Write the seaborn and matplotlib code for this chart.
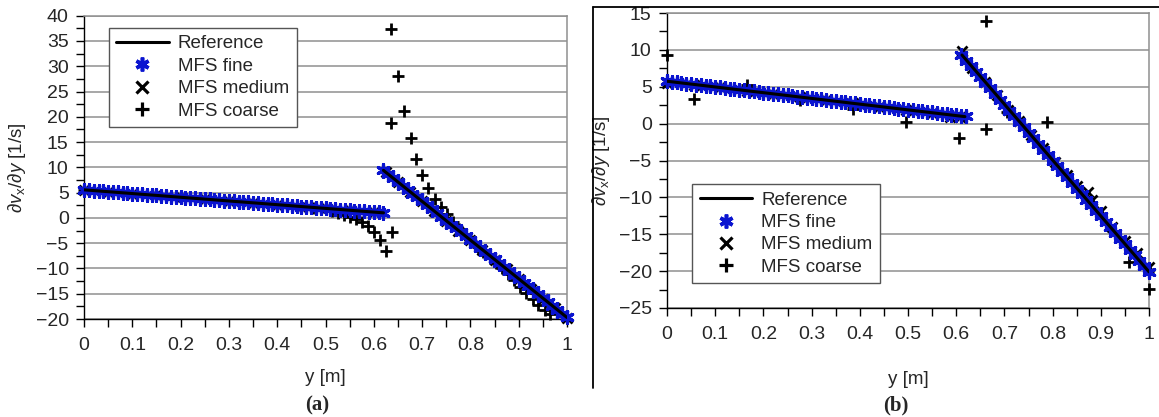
import matplotlib
matplotlib.use("Agg")
import matplotlib.pyplot as plt
from matplotlib.lines import Line2D
from matplotlib.ticker import MultipleLocator, FuncFormatter
import seaborn as sns

# ---------------- panel (a) ----------------
ref_a_y = [0.0, 0.62, 0.62, 1.0]
ref_a_v = [5.55, 1.0, 9.4, -19.7]
ref_a_seg = [0, 0, 1, 1]

fine_a_y = [0.00, 0.01, 0.02, 0.03, 0.04, 0.05, 0.06, 0.07, 0.08, 0.09,
            0.10, 0.11, 0.12, 0.13, 0.14, 0.15, 0.16, 0.17, 0.18, 0.19,
            0.20, 0.21, 0.22, 0.23, 0.24, 0.25, 0.26, 0.27, 0.28, 0.29,
            0.30, 0.31, 0.32, 0.33, 0.34, 0.35, 0.36, 0.37, 0.38, 0.39,
            0.40, 0.41, 0.42, 0.43, 0.44, 0.45, 0.46, 0.47, 0.48, 0.49,
            0.50, 0.51, 0.52, 0.53, 0.54, 0.55, 0.56, 0.57, 0.58, 0.59,
            0.60, 0.61, 0.62,
            0.62, 0.63, 0.64, 0.65, 0.66, 0.67, 0.68, 0.69, 0.70, 0.71,
            0.72, 0.73, 0.74, 0.75, 0.76, 0.77, 0.78, 0.79, 0.80, 0.81,
            0.82, 0.83, 0.84, 0.85, 0.86, 0.87, 0.88, 0.89, 0.90, 0.91,
            0.92, 0.93, 0.94, 0.95, 0.96, 0.97, 0.98, 0.99, 1.00]
fine_a_v = [5.55, 5.48, 5.40, 5.33, 5.26, 5.18, 5.11, 5.04, 4.96, 4.89,
            4.82, 4.74, 4.67, 4.60, 4.52, 4.45, 4.38, 4.30, 4.23, 4.16,
            4.08, 4.01, 3.94, 3.86, 3.79, 3.72, 3.64, 3.57, 3.50, 3.42,
            3.35, 3.28, 3.20, 3.13, 3.06, 2.98, 2.91, 2.84, 2.76, 2.69,
            2.62, 2.54, 2.47, 2.40, 2.32, 2.25, 2.18, 2.10, 2.03, 1.96,
            1.88, 1.81, 1.74, 1.66, 1.59, 1.52, 1.44, 1.37, 1.30, 1.22,
            1.15, 1.08, 1.00,
            9.40, 8.63, 7.87, 7.10, 6.34, 5.57, 4.81, 4.04, 3.27, 2.51,
            1.74, 0.98, 0.21, -0.55, -1.32, -2.09, -2.85, -3.62, -4.38, -5.15,
            -5.92, -6.68, -7.45, -8.21, -8.98, -9.74, -10.51, -11.28, -12.04, -12.81,
            -13.57, -14.34, -15.11, -15.87, -16.64, -17.40, -18.17, -18.93, -19.70]

medium_a_y = [0.00, 0.05, 0.10, 0.15, 0.20, 0.25, 0.30, 0.35, 0.40, 0.45, 0.50, 0.55, 0.60,
              0.625, 0.65, 0.675, 0.70, 0.725, 0.75, 0.775, 0.80, 0.825, 0.85, 0.875,
              0.90, 0.925, 0.95, 0.975, 1.00]
medium_a_v = [5.55, 5.18, 4.82, 4.45, 4.08, 3.72, 3.35, 2.98, 2.62, 2.25, 1.88, 1.50, 1.12,
              9.0, 7.1, 5.2, 3.3, 1.35, -0.55, -2.5, -4.4, -6.3, -8.3, -10.2,
              -12.1, -14.1, -16.0, -17.9, -19.8]

coarse_a_y = [0.00, 0.05, 0.10, 0.15, 0.20, 0.25, 0.30, 0.35, 0.40, 0.45, 0.475, 0.50,
              0.5125, 0.525, 0.5375, 0.55, 0.5625, 0.575, 0.5875, 0.600, 0.6125, 0.625,
              0.636, 0.636, 0.638, 0.650, 0.663, 0.676, 0.688, 0.700, 0.713, 0.726,
              0.739, 0.752, 0.764, 0.777, 0.789, 0.802, 0.815, 0.827, 0.840, 0.853,
              0.865, 0.878, 0.891, 0.903, 0.916, 0.929, 0.941, 0.954, 0.965]
coarse_a_v = [5.5, 5.15, 4.78, 4.42, 4.05, 3.68, 3.3, 2.94, 2.57, 2.2, 2.0, 1.75,
              1.3, 0.95, 0.55, 0.2, -0.3, -0.9, -1.7, -2.7, -4.35, -6.6,
              37.4, 18.7, -2.8, 28.1, 21.1, 15.8, 11.6, 8.5, 5.9, 3.8,
              2.2, 0.7, -0.8, -2.2, -3.4, -4.6, -5.7, -6.8, -7.9, -8.9,
              -9.9, -11.1, -12.3, -13.6, -14.8, -16.1, -17.2, -18.2, -19.0]

# ---------------- panel (b) ----------------
ref_b_y = [0.0, 0.618, 0.612, 1.0]
ref_b_v = [5.75, 0.95, 9.3, -20.1]
ref_b_seg = [0, 0, 1, 1]

fine_b_y = [0.00, 0.01, 0.02, 0.03, 0.04, 0.05, 0.06, 0.07, 0.08, 0.09,
            0.10, 0.11, 0.12, 0.13, 0.14, 0.15, 0.16, 0.17, 0.18, 0.19,
            0.20, 0.21, 0.22, 0.23, 0.24, 0.25, 0.26, 0.27, 0.28, 0.29,
            0.30, 0.31, 0.32, 0.33, 0.34, 0.35, 0.36, 0.37, 0.38, 0.39,
            0.40, 0.41, 0.42, 0.43, 0.44, 0.45, 0.46, 0.47, 0.48, 0.49,
            0.50, 0.51, 0.52, 0.53, 0.54, 0.55, 0.56, 0.57, 0.58, 0.59,
            0.60, 0.61, 0.62,
            0.61, 0.62, 0.63, 0.64, 0.65, 0.66, 0.67, 0.68, 0.69, 0.70,
            0.71, 0.72, 0.73, 0.74, 0.75, 0.76, 0.77, 0.78, 0.79, 0.80,
            0.81, 0.82, 0.83, 0.84, 0.85, 0.86, 0.87, 0.88, 0.89, 0.90,
            0.91, 0.92, 0.93, 0.94, 0.95, 0.96, 0.97, 0.98, 0.99, 1.00]
fine_b_v = [5.75, 5.67, 5.60, 5.52, 5.44, 5.37, 5.29, 5.21, 5.13, 5.06,
            4.98, 4.90, 4.83, 4.75, 4.67, 4.60, 4.52, 4.44, 4.36, 4.29,
            4.21, 4.13, 4.06, 3.98, 3.90, 3.83, 3.75, 3.67, 3.59, 3.52,
            3.44, 3.36, 3.29, 3.21, 3.13, 3.06, 2.98, 2.90, 2.82, 2.75,
            2.67, 2.59, 2.52, 2.44, 2.36, 2.29, 2.21, 2.13, 2.05, 1.98,
            1.90, 1.82, 1.75, 1.67, 1.59, 1.52, 1.44, 1.36, 1.28, 1.21,
            1.13, 1.05, 0.98,
            9.30, 8.55, 7.79, 7.04, 6.28, 5.53, 4.78, 4.02, 3.27, 2.51,
            1.76, 1.01, 0.25, -0.50, -1.26, -2.01, -2.76, -3.52, -4.27, -5.03,
            -5.78, -6.53, -7.29, -8.04, -8.80, -9.55, -10.30, -11.06, -11.81, -12.57,
            -13.32, -14.07, -14.83, -15.58, -16.34, -17.09, -17.84, -18.60, -19.35, -20.10]

medium_b_y = [0.0, 0.055, 0.11, 0.165, 0.22, 0.275, 0.33, 0.385, 0.44, 0.495, 0.55, 0.587, 0.608,
              0.611, 0.633, 0.66, 0.685, 0.708, 0.731, 0.756, 0.781, 0.805, 0.829, 0.85,
              0.873, 0.881, 0.90, 0.923, 0.95, 0.975, 0.999]
medium_b_v = [5.5, 5.3, 4.9, 4.45, 4.0, 3.6, 3.15, 2.75, 2.3, 1.9, 1.5, 0.85, 0.85,
              9.85, 7.5, 5.6, 3.9, 1.9, 0.4, -1.6, -3.3, -5.2, -6.9, -8.5,
              -9.3, -10.3, -11.8, -14.0, -15.9, -17.6, -19.4]

coarse_b_y = [0.0, 0.055, 0.11, 0.165, 0.22, 0.276, 0.33, 0.385, 0.44, 0.496, 0.55, 0.606,
              0.662, 0.662, 0.705, 0.789, 0.959, 0.999]
coarse_b_v = [9.3, 3.3, 4.9, 5.2, 4.05, 3.2, 3.2, 2.0, 2.35, 0.2, 1.5, -2.0,
              13.95, -0.73, 1.6, 0.2, -18.7, -22.4]

sns.set_style("ticks")
plt.rcParams['font.family'] = ['Liberation Sans', 'DejaVu Sans']
plt.rcParams['mathtext.fontset'] = 'custom'
plt.rcParams['mathtext.rm'] = 'Liberation Sans'
plt.rcParams['mathtext.it'] = 'Liberation Sans:italic'

BLUE = '#0a14d0'
STAR = (6, 2, 0)
GRID = '#8f8f8f'
TICK_FS = 14
LAB_FS = 13.5

fig = plt.figure(figsize=(11.59, 4.17), dpi=100)
ax_a = fig.add_axes([0.0725, 0.235, 0.4167, 0.7274])
ax_b = fig.add_axes([0.5755, 0.2614, 0.4159, 0.7074])


def draw(ax, ref_y, ref_v, ref_seg, fy, fv, my, mv, cy, cv):
    sns.scatterplot(x=cy, y=cv, ax=ax, marker='+', color='black', s=64,
                    linewidth=2.0, zorder=3, clip_on=False, legend=False)
    sns.scatterplot(x=my, y=mv, ax=ax, marker='x', color='black', s=52,
                    linewidth=2.0, zorder=3, clip_on=False, legend=False)
    sns.scatterplot(x=fy, y=fv, ax=ax, marker=STAR, color=BLUE, s=72,
                    linewidth=2.3, zorder=4, clip_on=False, legend=False)
    sns.lineplot(x=ref_y, y=ref_v, units=ref_seg, estimator=None, ax=ax,
                 color='black', lw=2.2, zorder=5, sort=False, legend=False)


def style(ax, ylo, yhi):
    ax.set_xlim(0, 1)
    ax.set_ylim(ylo, yhi)
    ax.xaxis.set_major_locator(MultipleLocator(0.1))
    ax.xaxis.set_minor_locator(MultipleLocator(0.05))
    ax.yaxis.set_major_locator(MultipleLocator(5))
    ax.yaxis.set_minor_locator(MultipleLocator(2.5))
    ax.xaxis.set_major_formatter(FuncFormatter(lambda v, p: '%g' % round(v, 2)))
    ax.yaxis.grid(True, which='major', color=GRID, lw=1.1)
    ax.set_axisbelow(True)
    ax.tick_params(axis='both', which='both', direction='out', length=6,
                   width=1, color='black', labelsize=TICK_FS)
    ax.tick_params(axis='x', pad=7)
    ax.tick_params(axis='y', pad=5)
    for s in ['top', 'right']:
        ax.spines[s].set_color(GRID)
        ax.spines[s].set_linewidth(1.1)
    for s in ['left', 'bottom']:
        ax.spines[s].set_color('black')
        ax.spines[s].set_linewidth(1.0)
    ax.set_xlabel('y [m]', fontsize=LAB_FS)
    ax.set_ylabel(r'$\partial v_{\mathrm{x}}/\partial y$ [1/s]', fontsize=LAB_FS)


draw(ax_a, ref_a_y, ref_a_v, ref_a_seg, fine_a_y, fine_a_v,
     medium_a_y, medium_a_v, coarse_a_y, coarse_a_v)
draw(ax_b, ref_b_y, ref_b_v, ref_b_seg, fine_b_y, fine_b_v,
     medium_b_y, medium_b_v, coarse_b_y, coarse_b_v)
style(ax_a, -20, 40)
style(ax_b, -25, 15)
ax_a.yaxis.set_label_coords(-0.116, 0.5)
ax_a.xaxis.set_label_coords(0.5, -0.165)
ax_b.yaxis.set_label_coords(-0.114, 0.5)
ax_b.xaxis.set_label_coords(0.5, -0.214)

handles = [
    Line2D([], [], color='black', lw=2.2),
    Line2D([], [], ls='none', marker=STAR, color=BLUE, ms=10, mew=2.6),
    Line2D([], [], ls='none', marker='x', color='black', ms=9, mew=2.3),
    Line2D([], [], ls='none', marker='+', color='black', ms=10, mew=2.3),
]
labels = ['Reference', 'MFS fine', 'MFS medium', 'MFS coarse']
for ax, anchor in [(ax_a, (0.0507, 0.960)), (ax_b, (0.052, 0.420))]:
    leg = ax.legend(handles, labels, loc='upper left', bbox_to_anchor=anchor,
                    borderaxespad=0, fontsize=LAB_FS, frameon=True, fancybox=False,
                    framealpha=1, edgecolor='#555555', handlelength=2.8,
                    handletextpad=0.5, labelspacing=0.28, borderpad=0.4,
                    numpoints=1)
    leg.get_frame().set_linewidth(1.0)

fig.text(317 / 1159, 1 - 405 / 417, '(a)', ha='center', va='center',
         fontsize=15, fontweight='bold', family='Liberation Serif')
fig.text(896 / 1159, 1 - 405 / 417, '(b)', ha='center', va='center',
         fontsize=15, fontweight='bold', family='Liberation Serif')

# frame lines around panel (b)
fig.add_artist(Line2D([593 / 1159, 1.0], [1 - 7 / 417, 1 - 7 / 417],
                      transform=fig.transFigure, color='black', lw=1.3))
fig.add_artist(Line2D([593 / 1159, 593 / 1159], [1 - 7 / 417, 1 - 388 / 417],
                      transform=fig.transFigure, color='black', lw=1.3))

fig.savefig('out.png', dpi=100)
